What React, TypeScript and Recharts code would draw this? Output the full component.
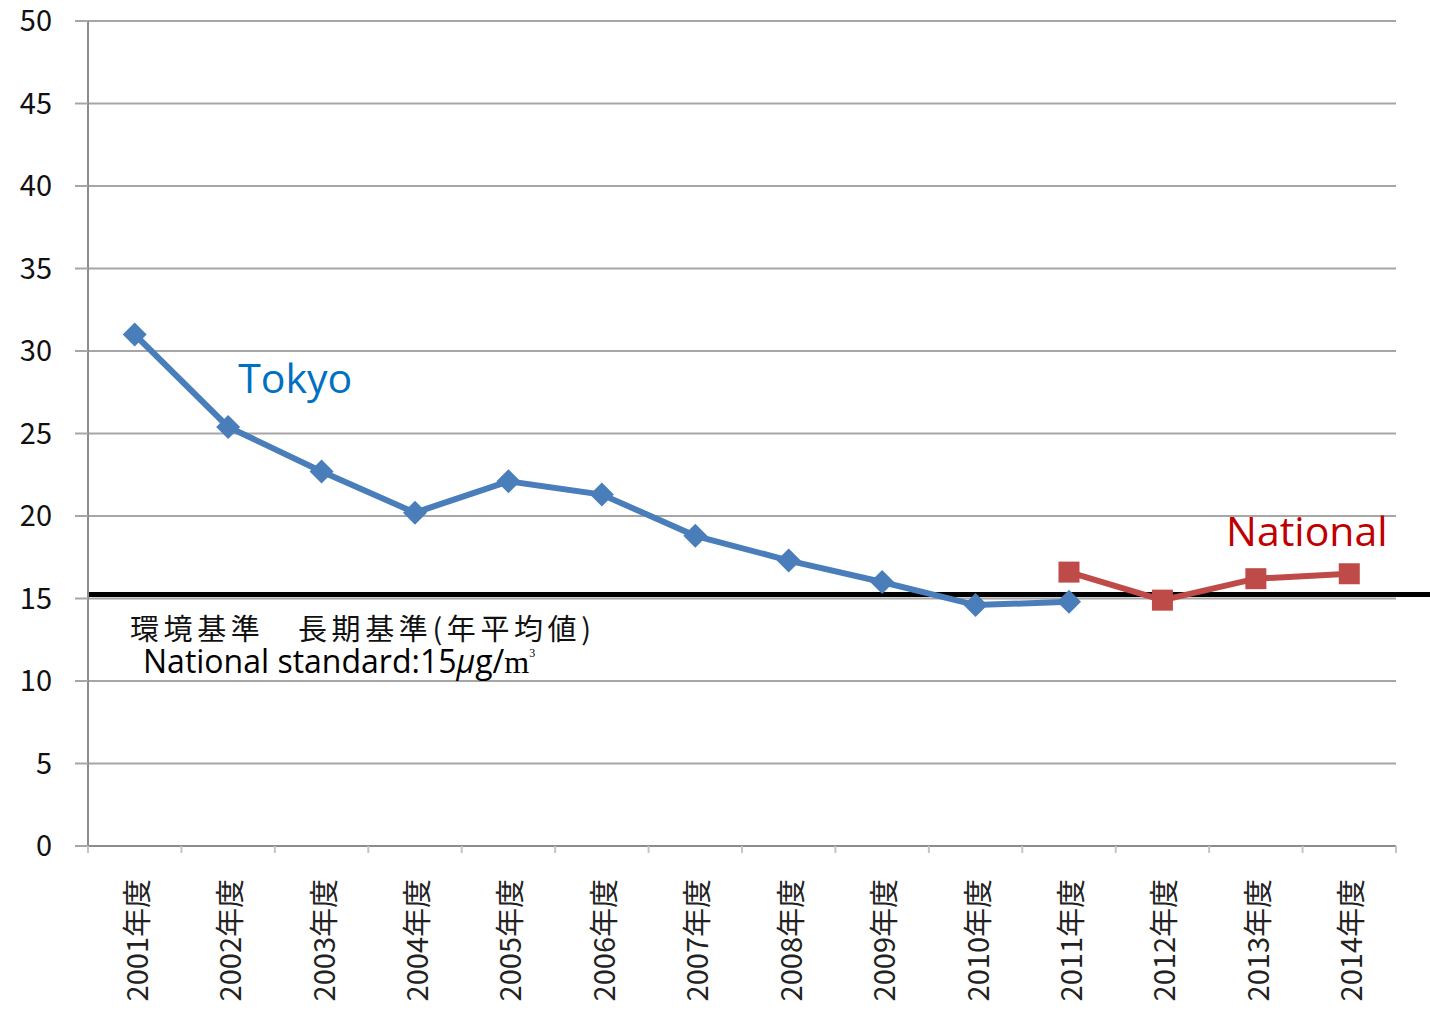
import React from 'react';
import { LineChart, Line, XAxis, YAxis, CartesianGrid, ReferenceLine, ReferenceDot } from 'recharts';

const categories = ['2001年度', '2002年度', '2003年度', '2004年度', '2005年度', '2006年度', '2007年度', '2008年度', '2009年度', '2010年度', '2011年度', '2012年度', '2013年度', '2014年度'];
const tokyo: (number | null)[] = [31.0, 25.4, 22.7, 20.2, 22.1, 21.3, 18.8, 17.3, 16.0, 14.6, 14.8, null, null, null];
const national: (number | null)[] = [null, null, null, null, null, null, null, null, null, null, 16.6, 14.9, 16.2, 16.5];
const yTicks = [0, 5, 10, 15, 20, 25, 30, 35, 40, 45, 50];
const standardLine = 15.25;
const standardJa = '環境基準　長期基準(年平均値)';
const standardEn = 'National standard:15';
const tokyoLabel = { text: 'Tokyo', category: '2002年度', value: 28.4 };
const nationalLabel = { text: 'National', category: '2013年度', value: 19.15 };

const data = categories.map((c, i) => ({ year: c, tokyo: tokyo[i], national: national[i] }));

const TOKYO = '#4a7ebb';
const NAT = '#be4b48';
const GRID = '#a6a6a6';
const AXIS = '#8c8c8c';

const Diamond = (props: any) => {
  const { cx, cy, value } = props;
  if (value == null || cx == null || cy == null) return null;
  const r = 12;
  return <polygon points={`${cx},${cy - r} ${cx + r},${cy} ${cx},${cy + r} ${cx - r},${cy}`} fill={TOKYO} />;
};

const Square = (props: any) => {
  const { cx, cy, value } = props;
  if (value == null || cx == null || cy == null) return null;
  const h = 10.5;
  return <rect x={cx - h} y={cy - h} width={2 * h} height={2 * h} fill={NAT} />;
};

const XTick = (props: any) => {
  const { x, y, payload, index } = props;
  const off = payload && typeof payload.offset === 'number' ? payload.offset : 0;
  return (
    <g>
      {off > 0 && <line x1={x + off} x2={x + off} y1={y} y2={y + 7} stroke="#c4c4c4" strokeWidth={2} />}
      {off > 0 && index === 0 && <line x1={x - off} x2={x - off} y1={y} y2={y + 7} stroke="#c4c4c4" strokeWidth={2} />}
      <text
        transform={`translate(${x}, ${y + 33}) rotate(-90)`}
        textAnchor="end"
        dominantBaseline="central"
        fontFamily="'Noto Sans CJK JP', sans-serif"
        fontSize={29}
        fill="#222"
      >
        {payload.value}
      </text>
    </g>
  );
};

const StandardShape = (props: any) => {
  const { x1, x2, y1, y2 } = props;
  if (x1 == null) return null;
  return <line x1={x1} x2={x2 + 40} y1={y1} y2={y2} stroke="#000" strokeWidth={5} />;
};

const StandardLabel = (props: any) => {
  const vb = props.viewBox || {};
  const x = vb.x ?? 0;
  const y = vb.y ?? 0;
  return (
    <g>
      <text x={x + 42} y={y + 33} dominantBaseline="central" fontFamily="'Noto Sans CJK JP', sans-serif" fontSize={29} letterSpacing={4.6} fill="#111">
        {standardJa}
      </text>
      <text x={x + 55} y={y + 79} fontFamily="'Open Sans', sans-serif" fontSize={32} fill="#000">
        {standardEn}
        <tspan fontStyle="italic">μ</tspan>
        <tspan>g/</tspan>
        <tspan fontFamily="'Liberation Serif', serif">m</tspan>
        <tspan fontFamily="'Liberation Serif', serif" fontSize={12} dy={-16}>3</tspan>
      </text>
    </g>
  );
};

const textShape = (text: string, color: string, dx: number) => (props: any) => {
  const { cx, cy } = props;
  if (cx == null) return null;
  return (
    <text x={cx + dx} y={cy} textAnchor="middle" dominantBaseline="central" fontFamily="'Open Sans', sans-serif" fontSize={41} fill={color}>
      {text}
    </text>
  );
};

export default function App() {
  return (
    <div style={{ position: 'absolute', left: 0, top: 0, width: 1430, height: 1035, background: '#fff' }}>
      <LineChart width={1430} height={1035} data={data} margin={{ top: 21, right: 34, left: 0, bottom: 0 }}>
        <CartesianGrid horizontal vertical={false} stroke={GRID} strokeWidth={2} />
        <XAxis
          dataKey="year"
          scale="band"
          height={189}
          interval={0}
          axisLine={{ stroke: AXIS, strokeWidth: 2 }}
          tickLine={false}
          tickSize={0}
          tickMargin={0}
          tick={<XTick />}
        />
        <YAxis
          width={88}
          domain={[0, 50]}
          ticks={yTicks}
          interval={0}
          axisLine={{ stroke: AXIS, strokeWidth: 2 }}
          tickLine={{ stroke: GRID, strokeWidth: 2 }}
          tickSize={13}
          tickMargin={23}
          tick={{ fontFamily: "'Noto Sans CJK JP', sans-serif", fontSize: 29, fill: '#111' }}
        />
        <ReferenceLine y={standardLine} shape={<StandardShape />} label={<StandardLabel />} />
        <Line
          type="linear"
          dataKey="tokyo"
          stroke={TOKYO}
          strokeWidth={6}
          dot={<Diamond />}
          activeDot={false}
          isAnimationActive={false}
          connectNulls={false}
        />
        <Line
          type="linear"
          dataKey="national"
          stroke={NAT}
          strokeWidth={6}
          dot={<Square />}
          activeDot={false}
          isAnimationActive={false}
          connectNulls={false}
        />
        <ReferenceDot x={tokyoLabel.category} y={tokyoLabel.value} r={0} shape={textShape(tokyoLabel.text, '#0070c0', 67)} />
        <ReferenceDot x={nationalLabel.category} y={nationalLabel.value} r={0} shape={textShape(nationalLabel.text, '#c00000', 51)} />
      </LineChart>
    </div>
  );
}
